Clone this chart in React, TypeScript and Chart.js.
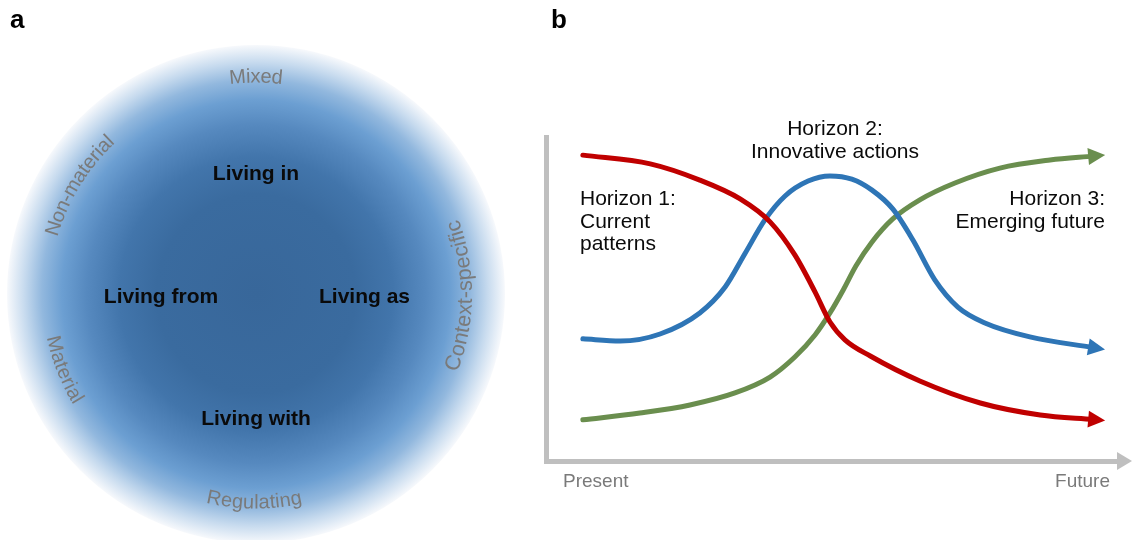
import React, { useEffect, useRef } from "react";
import { Chart, registerables } from "chart.js";

Chart.register(...registerables);

// ---------- Panel a data ----------
const panelLetters = ["a", "b"];
const circleValue = [1];
const innerLabels = ["Living in", "Living from", "Living as", "Living with"];
const outerLabels = ["Mixed", "Non-material", "Context-specific", "Material", "Regulating"];

// ---------- Panel b data ----------
const axisLabels = ["Present", "Future"];
const horizon1Text = ["Horizon 1:", "Current", "patterns"];
const horizon2Text = ["Horizon 2:", "Innovative actions"];
const horizon3Text = ["Horizon 3:", "Emerging future"];

const redX = [6.4, 18.1, 26.7, 33.7, 38.9, 43.2, 46.7, 49.3, 51.9, 56.3, 64.9, 75.4, 85.8, 95.0];
const redY = [94.4, 91.7, 86.7, 80.9, 73.8, 63.6, 52.2, 42.9, 37.4, 32.4, 24.7, 17.9, 14.2, 12.8];

const blueX = [6.4, 12.9, 19.8, 26.7, 31.1, 34.6, 38.0, 41.5, 45.5, 49.3, 53.1, 56.6, 60.2, 63.7, 67.5, 71.5, 76.2, 84.0, 95.0];
const blueY = [37.7, 37.0, 39.2, 45.7, 53.7, 64.2, 74.4, 81.8, 86.4, 88.0, 87.0, 83.6, 77.8, 68.2, 55.9, 47.5, 42.6, 38.3, 35.0];

const greenX = [6.4, 16.3, 25.0, 32.8, 38.9, 43.2, 46.7, 49.3, 51.6, 53.8, 56.6, 60.2, 64.9, 71.0, 78.8, 87.5, 95.0];
const greenY = [12.7, 14.8, 17.3, 21.0, 25.9, 32.1, 38.9, 45.7, 52.8, 60.2, 67.6, 74.7, 80.6, 85.8, 90.4, 92.9, 94.1];

// ---------- styling / layout (not data) ----------
const FONT = '"Liberation Sans", Arial, Helvetica, sans-serif';
const RED = "#c00000";
const BLUE = "#2e75b6";
const GREEN = "#6a8e4e";
const AXIS = "#bfbfbf";
const GREY_TEXT = "#7a7a7a";
const CIRCLE_R = 249;

const innerPos = [
  [0, -114.5],
  [-95, 8.5],
  [108.5, 8.5],
  [0, 130.5],
];
// angle (deg), radius, outward-facing?, font size
const outerPos: [number, number, boolean, number][] = [
  [-90, 217, true, 20],
  [-148.5, 212, true, 20],
  [0.5, 210, false, 21.5],
  [158.5, 208, false, 20],
  [90.5, 209, false, 20],
];

function drawArcText(
  ctx: CanvasRenderingContext2D,
  text: string,
  cx: number,
  cy: number,
  r: number,
  angleDeg: number,
  outward: boolean
) {
  const chars = Array.from(text);
  const widths = chars.map((ch) => ctx.measureText(ch).width);
  const total = widths.reduce((a, b) => a + b, 0) / r;
  const a0 = (angleDeg * Math.PI) / 180;
  let a = outward ? a0 - total / 2 : a0 + total / 2;
  chars.forEach((ch, i) => {
    const w = widths[i] / r;
    const ac = outward ? a + w / 2 : a - w / 2;
    ctx.save();
    ctx.translate(cx + r * Math.cos(ac), cy + r * Math.sin(ac));
    ctx.rotate(outward ? ac + Math.PI / 2 : ac - Math.PI / 2);
    ctx.fillText(ch, 0, 0);
    ctx.restore();
    a = outward ? a + w : a - w;
  });
}

const circleLabelsPlugin = {
  id: "circleLabels",
  afterDatasetsDraw(chart: any) {
    const { ctx, chartArea } = chart;
    const cx = (chartArea.left + chartArea.right) / 2;
    const cy = (chartArea.top + chartArea.bottom) / 2;
    ctx.save();
    ctx.fillStyle = "#000";
    ctx.font = `bold 26px ${FONT}`;
    ctx.textAlign = "left";
    ctx.textBaseline = "alphabetic";
    ctx.fillText(panelLetters[0], 10, 28);
    ctx.font = `bold 21px ${FONT}`;
    ctx.textAlign = "center";
    ctx.fillStyle = "#0a0a0a";
    innerLabels.forEach((t, i) => {
      ctx.fillText(t, cx + innerPos[i][0], cy + innerPos[i][1]);
    });
    ctx.fillStyle = GREY_TEXT;
    ctx.textAlign = "center";
    ctx.textBaseline = "middle";
    outerLabels.forEach((t, i) => {
      const [ang, r, out, size] = outerPos[i];
      ctx.font = `${size}px ${FONT}`;
      drawArcText(ctx, t, cx, cy, r, ang, out);
    });
    ctx.restore();
  },
};

const horizonPlugin = {
  id: "horizonDecor",
  afterDatasetsDraw(chart: any) {
    const { ctx, chartArea } = chart;
    ctx.save();
    const yAxis = chartArea.bottom;
    ctx.fillStyle = AXIS;
    ctx.beginPath();
    ctx.moveTo(chartArea.right - 5, yAxis - 9);
    ctx.lineTo(chartArea.right + 10, yAxis);
    ctx.lineTo(chartArea.right - 5, yAxis + 9);
    ctx.closePath();
    ctx.fill();

    chart.data.datasets.forEach((ds: any, di: number) => {
      const meta = chart.getDatasetMeta(di);
      const pts = meta.data;
      const p = pts[pts.length - 1];
      const q = pts[pts.length - 2];
      let dx = p.x - (p.cp1x ?? q.x);
      let dy = p.y - (p.cp1y ?? q.y);
      if (Math.abs(dx) + Math.abs(dy) < 0.01) {
        dx = p.x - q.x;
        dy = p.y - q.y;
      }
      const len = Math.hypot(dx, dy) || 1;
      const ux = dx / len;
      const uy = dy / len;
      const tipX = p.x + ux * 12;
      const tipY = p.y + uy * 12;
      const bx = p.x - ux * 5;
      const by = p.y - uy * 5;
      const hw = 8.5;
      ctx.fillStyle = ds.borderColor;
      ctx.beginPath();
      ctx.moveTo(tipX, tipY);
      ctx.lineTo(bx - uy * hw, by + ux * hw);
      ctx.lineTo(bx + uy * hw, by - ux * hw);
      ctx.closePath();
      ctx.fill();
    });

    ctx.fillStyle = "#000";
    ctx.font = `bold 26px ${FONT}`;
    ctx.textAlign = "left";
    ctx.textBaseline = "alphabetic";
    ctx.fillText(panelLetters[1], 21, 28);

    ctx.font = `21px ${FONT}`;
    ctx.fillStyle = "#0a0a0a";
    ctx.textAlign = "left";
    horizon1Text.forEach((t, i) => ctx.fillText(t, 50, 205 + i * 22.5));
    ctx.textAlign = "center";
    horizon2Text.forEach((t, i) => ctx.fillText(t, 305, 135 + i * 22.5));
    ctx.textAlign = "right";
    horizon3Text.forEach((t, i) => ctx.fillText(t, 575, 205 + i * 22.5));

    ctx.font = `19px ${FONT}`;
    ctx.fillStyle = GREY_TEXT;
    ctx.textAlign = "left";
    ctx.fillText(axisLabels[0], 33, 487);
    ctx.textAlign = "right";
    ctx.fillText(axisLabels[1], 580, 487);
    ctx.restore();
  },
};

export default function App() {
  const refA = useRef<HTMLCanvasElement>(null);
  const refB = useRef<HTMLCanvasElement>(null);

  useEffect(() => {
    const chartA = new Chart(refA.current as HTMLCanvasElement, {
      type: "pie",
      data: {
        labels: ["circle"],
        datasets: [
          {
            data: circleValue,
            borderWidth: 0,
            radius: CIRCLE_R,
            backgroundColor: (c: any) => {
              const chart = c.chart;
              const ca = chart.chartArea;
              if (!ca) return "#3a6a9e";
              const cx = (ca.left + ca.right) / 2;
              const cy = (ca.top + ca.bottom) / 2;
              const g = chart.ctx.createRadialGradient(cx, cy, 0, cx, cy, CIRCLE_R);
              g.addColorStop(0, "#38679a");
              g.addColorStop(0.4, "#3a6b9f");
              g.addColorStop(0.55, "#4275ab");
              g.addColorStop(0.68, "#5689bf");
              g.addColorStop(0.78, "#6c9fd2");
              g.addColorStop(0.86, "#92b8de");
              g.addColorStop(0.93, "#c6daee");
              g.addColorStop(1, "#f7f9fc");
              return g;
            },
          } as any,
        ],
      },
      options: {
        responsive: false,
        animation: false,
        events: [],
        layout: { padding: { top: 48, left: 0, right: 0, bottom: 0 } },
        plugins: { legend: { display: false }, tooltip: { enabled: false } },
      },
      plugins: [circleLabelsPlugin],
    });

    const mk = (xs: number[], ys: number[], color: string) => ({
      data: xs.map((x, i) => ({ x, y: ys[i] })),
      borderColor: color,
      backgroundColor: color,
      borderWidth: 5,
      pointRadius: 0,
      fill: false,
      cubicInterpolationMode: "monotone" as const,
      borderCapStyle: "round" as const,
      borderJoinStyle: "round" as const,
    });

    const chartB = new Chart(refB.current as HTMLCanvasElement, {
      type: "line",
      data: {
        datasets: [
          mk(redX, redY, RED),
          mk(blueX, blueY, BLUE),
          mk(greenX, greenY, GREEN),
        ],
      },
      options: {
        responsive: false,
        animation: false,
        events: [],
        layout: { autoPadding: false, padding: { top: 137, left: 16, right: 10, bottom: 79 } },
        plugins: { legend: { display: false }, tooltip: { enabled: false } },
        scales: {
          x: {
            type: "linear",
            min: 0,
            max: 100,
            grid: { display: false, drawTicks: false },
            ticks: { display: false },
            border: { display: true, color: AXIS, width: 5 },
          },
          y: {
            type: "linear",
            min: 0,
            max: 100,
            grid: { display: false, drawTicks: false },
            ticks: { display: false },
            border: { display: true, color: AXIS, width: 5 },
          },
        },
      },
      plugins: [horizonPlugin],
    });

    return () => {
      chartA.destroy();
      chartB.destroy();
    };
  }, []);

  return (
    <div
      style={{
        position: "absolute",
        left: 0,
        top: 0,
        width: 1132,
        height: 540,
        overflow: "hidden",
        background: "#fff",
      }}
    >
      <canvas ref={refA} width={512} height={540} style={{ position: "absolute", left: 0, top: 0 }} />
      <canvas ref={refB} width={602} height={540} style={{ position: "absolute", left: 530, top: 0 }} />
    </div>
  );
}
